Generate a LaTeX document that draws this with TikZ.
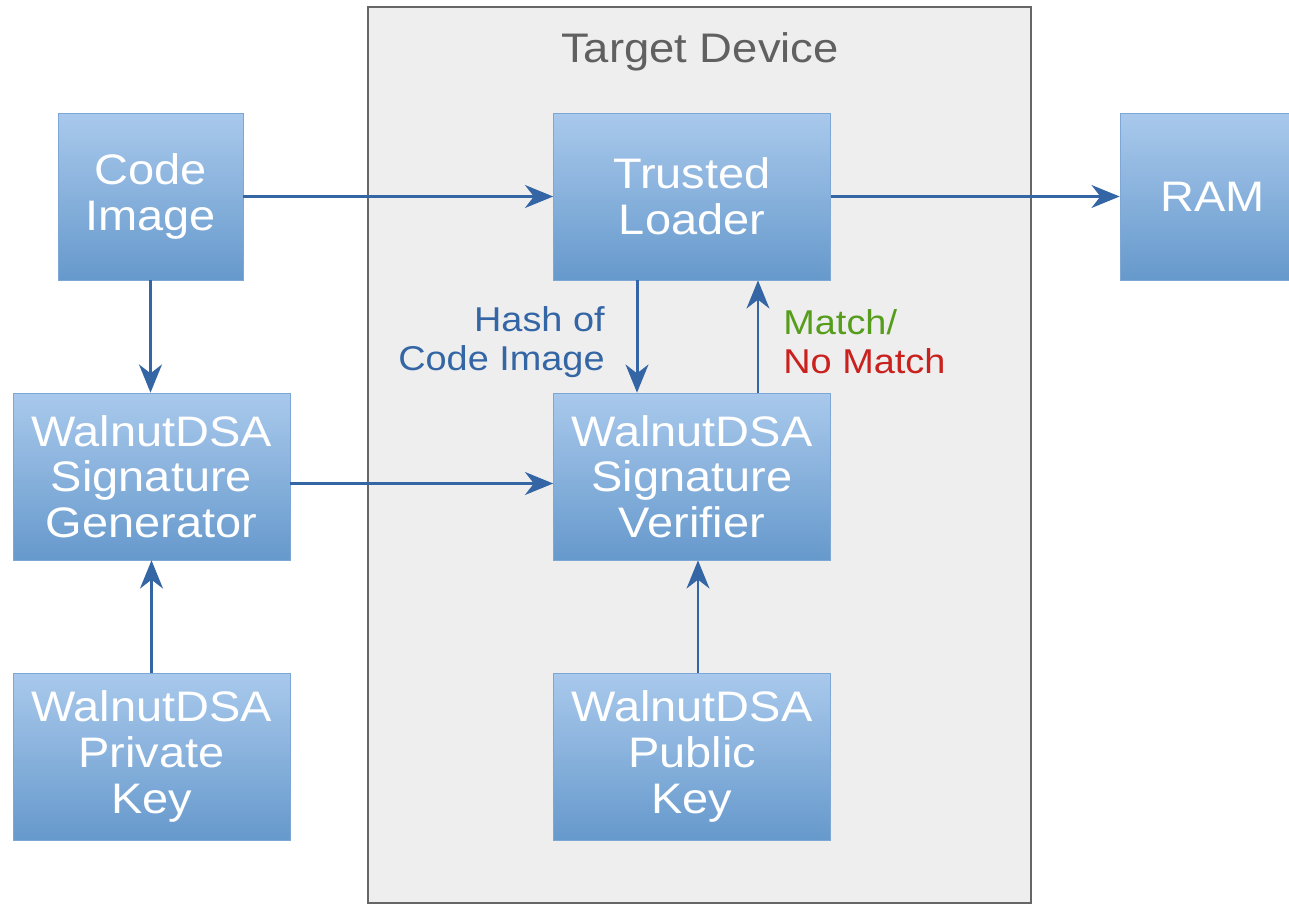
\documentclass[tikz,border=0pt]{standalone}
\usepackage{fontspec}
\setmainfont[FakeStretch=1.1]{Liberation Sans}
\usetikzlibrary{arrows.meta}
\definecolor{azulsup}{HTML}{A9C9EC}
\definecolor{azulinf}{HTML}{6699CC}
\definecolor{azulborde}{HTML}{7FA7D6}
\definecolor{azulflecha}{HTML}{3465A4}
\definecolor{gris}{HTML}{EEEEEE}
\definecolor{grisborde}{HTML}{666666}
\definecolor{titulo}{HTML}{606060}
\definecolor{verde}{HTML}{579D1C}
\definecolor{rojo}{HTML}{C9211E}
\begin{document}
\begin{tikzpicture}[x=0.02cm,y=-0.02cm,
    caja/.style={top color=azulsup,bottom color=azulinf,draw=azulborde,thin,text=white,align=center,
      inner sep=0pt,minimum height=3.34cm,font=\fontsize{24.3}{26}\selectfont},
    chica/.style={caja,minimum width=3.7cm},
    grande/.style={caja,minimum width=5.54cm},
    flecha/.style={draw=azulflecha,line width=1.7pt,-{Stealth[length=16pt,width=13pt,inset=5pt]}},
    etiqueta/.style={inner sep=0pt,font=\fontsize{19.6}{22}\selectfont}]
  %\draw[dashed,very thin,gray] (0,0) grid[step=100] (1289,906);
  \useasboundingbox (0,0) rectangle (1289,906);
  \filldraw[fill=gris,draw=grisborde,line width=1.1pt] (368,7) rectangle (1031,903); % Dispositivo
  \node[text=titulo,font=\fontsize{23.5}{26}\selectfont] (titulo) at (700,52) {Target Device};
  % Cajas
  \node[chica] (codigo) at (150.5,196.5) {Code\\Image};
  \node[grande] (cargador) at (692,196.5) {Trusted\\Loader};
  \node[chica] (ram) at (1212.5,196.5) {RAM};
  \node[grande] (generador) at (151.5,476.5) {WalnutDSA\\Signature\\Generator};
  \node[grande] (verificador) at (692,476.5) {WalnutDSA\\Signature\\Verifier};
  \node[grande] (privada) at (151.5,756.5) {WalnutDSA\\Private\\Key};
  \node[grande] (publica) at (692,756.5) {WalnutDSA\\Public\\Key};
  % Flechas
  \draw[flecha] (codigo) -- (cargador);
  \draw[flecha] (cargador) -- (ram);
  \draw[flecha] (codigo.south) -- (codigo.south |- generador.north);
  \draw[flecha] ([yshift=-0.14cm]generador.east) -- ([yshift=-0.14cm]verificador.west);
  \draw[flecha] (privada) -- (generador);
  \draw[flecha] ([xshift=0.12cm]publica.north) -- ([xshift=0.12cm]verificador.south);
  \draw[flecha] ([xshift=-1.1cm]cargador.south) -- ([xshift=-1.1cm]verificador.north); % Hash
  \draw[flecha] ([xshift=1.32cm]verificador.north) -- ([xshift=1.32cm]cargador.south); % Match
  \node[etiqueta,anchor=east,align=right,text=azulflecha] (hash) at (605,342) {Hash of\\Code Image};
  \node[etiqueta,anchor=west,align=left] (match) at (783,342) {\textcolor{verde}{Match/}\\\textcolor{rojo}{No Match}};
\end{tikzpicture}
\end{document}
